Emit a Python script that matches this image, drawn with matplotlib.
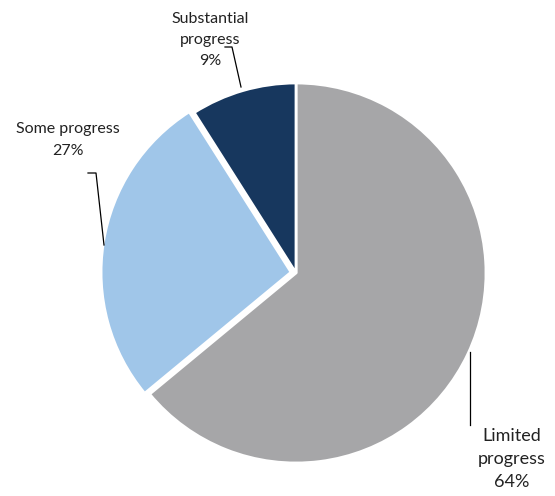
import matplotlib.pyplot as plt
import numpy as np

labels = ['Limited\nprogress', 'Some progress', 'Substantial\nprogress']
values = [64, 27, 9]
colors = ['#A6A6A8', '#A0C6E9', '#17375E']

W, H = 555, 496
plt.rcParams['font.family'] = ['Lato', 'DejaVu Sans']

fig = plt.figure(figsize=(W/100, H/100), dpi=100)
ax = fig.add_axes([0, 0, 1, 1])

# pie in pixel units (y measured from bottom)
cx, cy, r = 296, H - 273, 190
pull = 5  # the light-blue slice sits slightly out of the pie
ax.pie(values, colors=colors, explode=[0, pull, 0], startangle=90,
       counterclock=False, center=(cx, cy), radius=r, frame=True,
       wedgeprops=dict(edgecolor='white', linewidth=2))
ax.set_xlim(0, W)
ax.set_ylim(0, H)
ax.set_aspect('equal')
ax.axis('off')

# leader lines, given in pixel coords from the top
def lead(pts):
    xs = [p[0] for p in pts]
    ys = [H - p[1] for p in pts]
    ax.plot(xs, ys, color='black', lw=0.9)

lead([(241, 87), (232, 47), (225, 47)])
lead([(104, 245), (96, 173), (88, 173)])
lead([(470, 352), (470, 425)])

ax.text(210, H - 40, f'{labels[2]}\n{values[2]}%', ha='center', va='center',
        fontsize=11.5, color='#222222', linespacing=1.65)
ax.text(68, H - 140, f'{labels[1]}\n{values[1]}%', ha='center', va='center',
        fontsize=11.5, color='#222222', linespacing=1.65)
ax.text(512, H - 459, f'{labels[0]}\n{values[0]}%', ha='center', va='center',
        fontsize=13, color='#222222', linespacing=1.55)

fig.savefig('out.png', dpi=100)
